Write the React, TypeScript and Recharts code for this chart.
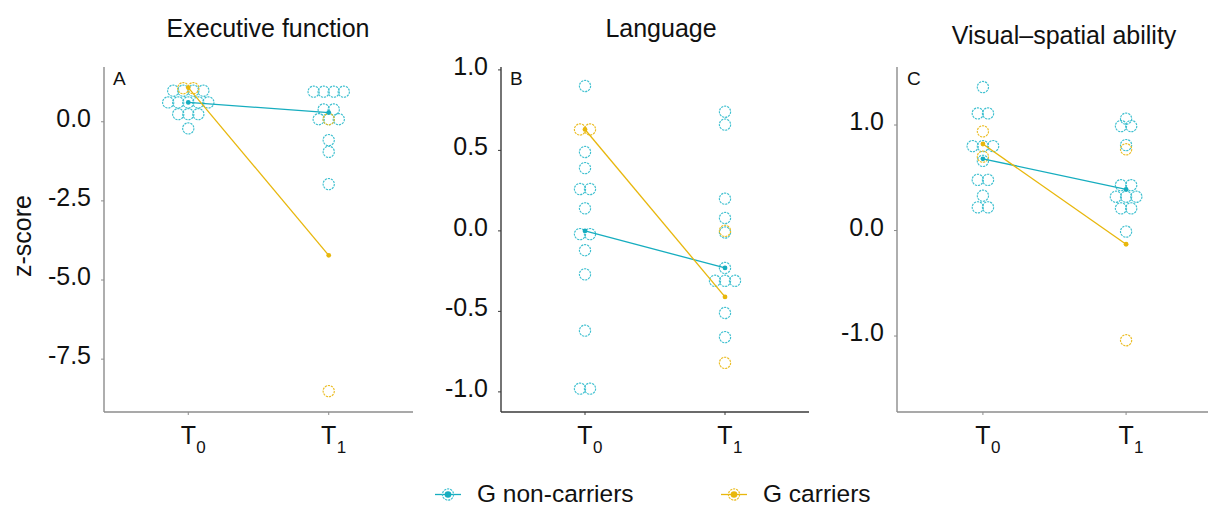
import React from "react";
import { ComposedChart, Scatter, XAxis, YAxis } from "recharts";

const FONT = "'Liberation Sans', Arial, Helvetica, sans-serif";
const CYAN = "#3fc0d0";
const CYAN_DARK = "#16adbf";
const GOLD = "#ebbd24";
const GOLD_DARK = "#e8b70c";

// time points (T0, T1)
const timeIdx = [0, 1];
const timeSubs = ["0", "1"];

// Executive function
const execNonT0 = [0.98, 0.98, 0.98, 0.98, 0.61, 0.61, 0.61, 0.61, 0.61, 0.24, 0.24, 0.24, -0.21];
const execNonT1 = [0.95, 0.95, 0.95, 0.95, 0.39, 0.39, 0.08, 0.08, 0.08, -0.58, -0.95, -1.97];
const execCarT0 = [1.06, 1.06];
const execCarT1 = [0.08, -8.51];
const execNonMean = [0.61, 0.29];
const execCarMean = [1.08, -4.22];
const execTicks = [0, -2.5, -5, -7.5];

// Language
const langNonT0 = [0.9, 0.49, 0.39, 0.26, 0.26, 0.14, -0.02, -0.02, -0.12, -0.27, -0.62, -0.98, -0.98];
const langNonT1 = [0.74, 0.66, 0.2, 0.08, -0.01, -0.23, -0.31, -0.31, -0.31, -0.51, -0.66];
const langCarT0 = [0.63, 0.63];
const langCarT1 = [0.0, -0.82];
const langNonMean = [0.0, -0.23];
const langCarMean = [0.63, -0.41];
const langTicks = [1, 0.5, 0, -0.5, -1];

// Visual-spatial ability
const visNonT0 = [1.36, 1.11, 1.11, 0.8, 0.8, 0.8, 0.66, 0.48, 0.48, 0.33, 0.22, 0.22];
const visNonT1 = [1.06, 0.99, 0.99, 0.81, 0.43, 0.43, 0.32, 0.32, 0.32, 0.21, 0.21, -0.01];
const visCarT0 = [0.94, 0.7];
const visCarT1 = [0.77, -1.04];
const visNonMean = [0.68, 0.39];
const visCarMean = [0.82, -0.13];
const visTicks = [1, 0, -1];

// dotplot stacking: equal values sit side by side, centred on the time point
function stack(values: number[], t: number, step = 0.0715) {
  const counts = new Map<number, number>();
  values.forEach((v) => counts.set(v, (counts.get(v) || 0) + 1));
  const seen = new Map<number, number>();
  return values.map((v) => {
    const n = counts.get(v)!;
    const i = seen.get(v) || 0;
    seen.set(v, i + 1);
    return { x: t + (i - (n - 1) / 2) * step, y: v };
  });
}

const means = (vals: number[]) => vals.map((v, i) => ({ x: timeIdx[i], y: v }));

const RingDot = (color: string) => (props: any) => (
  <circle cx={props.cx} cy={props.cy} r={5.6} fill="none" stroke={color} strokeWidth={1.15} strokeDasharray="2.2 0.9" />
);
const MeanDot = (color: string) => (props: any) => (
  <circle cx={props.cx} cy={props.cy} r={2.4} fill={color} />
);

const YTick = (props: any) => (
  <text x={props.x} y={props.y} dy={5} textAnchor="end" fontSize={25} fontFamily={FONT} fill="#111">
    {Number(props.payload.value).toFixed(1)}
  </text>
);

const XTick = (props: any) => {
  const i = timeIdx.indexOf(props.payload.value);
  return (
    <g>
      <text x={props.x} y={props.y + 27} textAnchor="middle" fontSize={25} fontFamily={FONT} fill="#111">T</text>
      <text x={props.x + 8} y={props.y + 36} textAnchor="start" fontSize={17} fontFamily={FONT} fill="#111">
        {timeSubs[i]}
      </text>
    </g>
  );
};

interface PanelProps {
  plotLeft: number;
  plotRight: number;
  domain: [number, number];
  ticks: number[];
  axisColor: string;
  nonT0: number[];
  nonT1: number[];
  carT0: number[];
  carT1: number[];
  nonMean: number[];
  carMean: number[];
}

function Panel(p: PanelProps) {
  const yw = 70;
  const nonDots = [...stack(p.nonT0, 0), ...stack(p.nonT1, 1)];
  const carDots = [...stack(p.carT0, 0), ...stack(p.carT1, 1)];
  return (
    <div style={{ position: "absolute", left: p.plotLeft - yw, top: 0 }}>
      <ComposedChart
        width={p.plotRight - p.plotLeft + yw + 4}
        height={462}
        margin={{ top: 67, right: 4, bottom: 0, left: 0 }}
      >
        <XAxis
          type="number"
          dataKey="x"
          domain={[-0.6, 1.6]}
          ticks={timeIdx}
          height={50}
          tick={<XTick />}
          tickSize={3}
          axisLine={{ stroke: p.axisColor, strokeWidth: 1.4 }}
          tickLine={{ stroke: p.axisColor }}
          allowDataOverflow
        />
        <YAxis
          type="number"
          dataKey="y"
          domain={p.domain}
          ticks={p.ticks}
          width={yw}
          tick={<YTick />}
          tickSize={3}
          tickMargin={10}
          axisLine={{ stroke: p.axisColor, strokeWidth: 1.4 }}
          tickLine={{ stroke: p.axisColor }}
          allowDataOverflow
        />
        <Scatter data={nonDots} shape={RingDot(CYAN)} isAnimationActive={false} />
        <Scatter data={carDots} shape={RingDot(GOLD)} isAnimationActive={false} />
        <Scatter
          data={means(p.nonMean)}
          line={{ stroke: CYAN_DARK, strokeWidth: 1.3 }}
          shape={MeanDot(CYAN_DARK)}
          isAnimationActive={false}
        />
        <Scatter
          data={means(p.carMean)}
          line={{ stroke: GOLD_DARK, strokeWidth: 1.3 }}
          shape={MeanDot(GOLD_DARK)}
          isAnimationActive={false}
        />
      </ComposedChart>
    </div>
  );
}

const LegendKey = ({ x, color, dark, label }: { x: number; color: string; dark: string; label: string }) => (
  <g>
    <line x1={x - 13} x2={x + 13} y1={494.5} y2={494.5} stroke={dark} strokeWidth={1.3} />
    <circle cx={x} cy={494.5} r={5.6} fill="none" stroke={color} strokeWidth={1.15} strokeDasharray="2.2 0.9" />
    <circle cx={x} cy={494.5} r={3.3} fill={dark} />
    <text x={x + 29} y={501.5} fontSize={24.5} fontFamily={FONT} fill="#111">{label}</text>
  </g>
);

export default function App() {
  return (
    <div style={{ position: "fixed", left: 0, top: 0, width: 1208, height: 507, overflow: "hidden", background: "#fff" }}>
      <Panel
        plotLeft={104}
        plotRight={413}
        domain={[-9.17, 1.73]}
        ticks={execTicks}
        axisColor="#8c8c8c"
        nonT0={execNonT0}
        nonT1={execNonT1}
        carT0={execCarT0}
        carT1={execCarT1}
        nonMean={execNonMean}
        carMean={execCarMean}
      />
      <Panel
        plotLeft={501}
        plotRight={809}
        domain={[-1.125, 1.018]}
        ticks={langTicks}
        axisColor="#3a3a3a"
        nonT0={langNonT0}
        nonT1={langNonT1}
        carT0={langCarT0}
        carT1={langCarT1}
        nonMean={langNonMean}
        carMean={langCarMean}
      />
      <Panel
        plotLeft={897}
        plotRight={1212}
        domain={[-1.72, 1.55]}
        ticks={visTicks}
        axisColor="#8c8c8c"
        nonT0={visNonT0}
        nonT1={visNonT1}
        carT0={visCarT0}
        carT1={visCarT1}
        nonMean={visNonMean}
        carMean={visCarMean}
      />
      <svg width={1208} height={507} style={{ position: "absolute", left: 0, top: 0, pointerEvents: "none" }}>
        <g fontFamily={FONT} fill="#111">
          <text x={268} y={37} fontSize={25} textAnchor="middle">Executive function</text>
          <text x={661} y={37} fontSize={25} textAnchor="middle">Language</text>
          <text x={1064} y={44} fontSize={25} textAnchor="middle">Visual–spatial ability</text>
          <text x={113} y={85} fontSize={19}>A</text>
          <text x={510} y={85} fontSize={19}>B</text>
          <text x={907} y={85} fontSize={19}>C</text>
          <text transform="translate(31,236) rotate(-90)" fontSize={25} textAnchor="middle">z-score</text>
        </g>
        <LegendKey x={448} color={CYAN} dark={CYAN_DARK} label="G non-carriers" />
        <LegendKey x={734} color={GOLD} dark={GOLD_DARK} label="G carriers" />
      </svg>
    </div>
  );
}
